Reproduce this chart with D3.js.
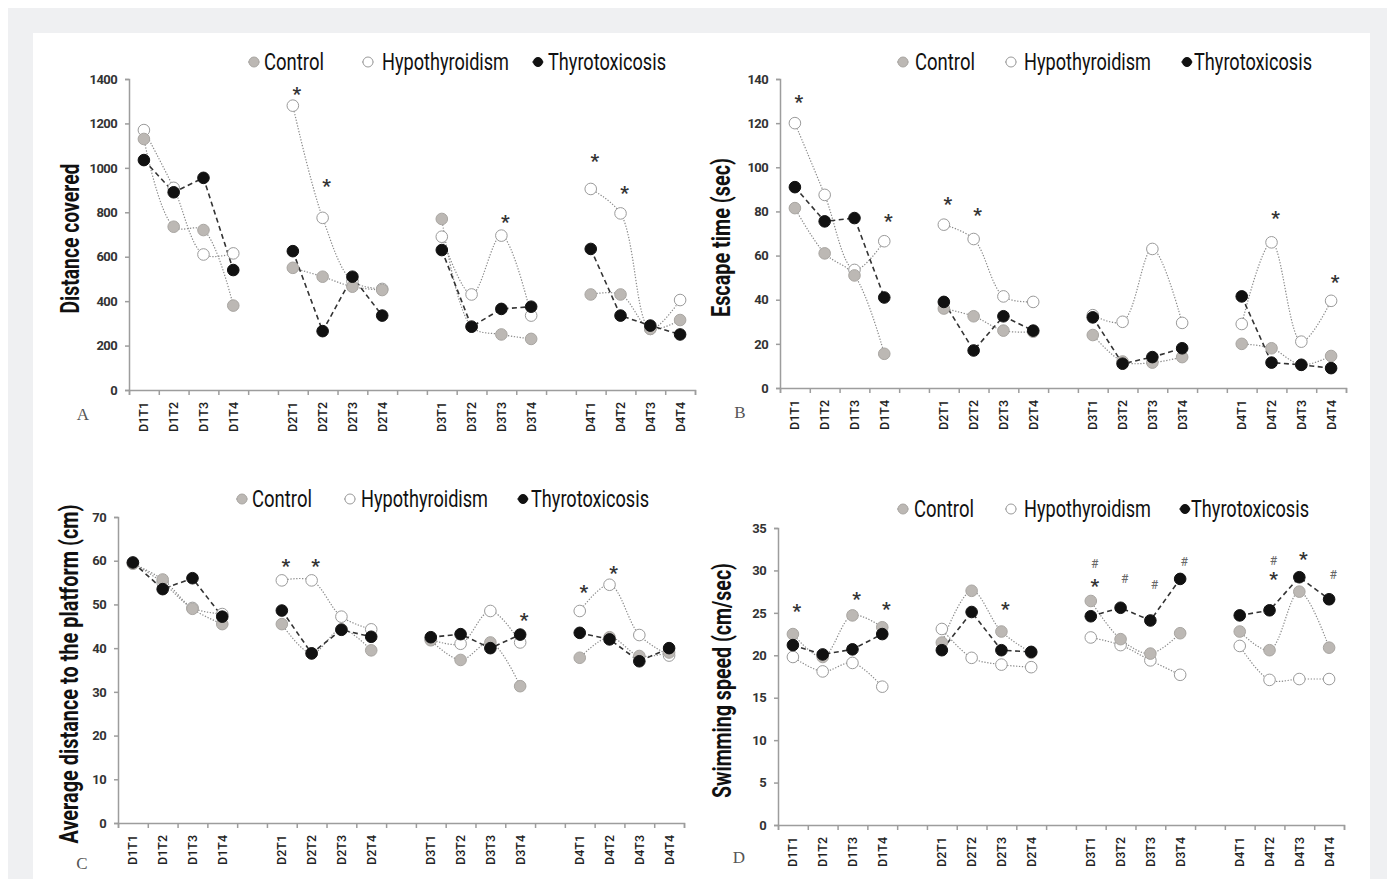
<!DOCTYPE html>
<html lang="en">
<head>
<meta charset="UTF-8">
<title>Water maze results</title>
<script src="https://cdn.jsdelivr.net/npm/d3@7"></script>
<style>
  body { margin: 0; background: #fff; }
  svg text { font-family: Roboto, "Noto Sans", sans-serif; }
</style>
</head>
<body>
<svg id="chart" width="1395" height="879"></svg>
<script>
// categories (day x trial), one empty slot between days on the axis
const categories = ["D1T1", "D1T2", "D1T3", "D1T4", "D2T1", "D2T2", "D2T3", "D2T4",
                    "D3T1", "D3T2", "D3T3", "D3T4", "D4T1", "D4T2", "D4T3", "D4T4"];
const groups = ["Control", "Hypothyroidism", "Thyrotoxicosis"];

// A - distance covered
const distControl = [1130, 735, 720, 380, 550, 510, 465, 450, 770, 285, 250, 230, 430, 430, 275, 315];
const distHypo    = [1170, 910, 610, 615, 1280, 775, 490, 455, 690, 430, 695, 335, 905, 795, 275, 405];
const distThyro   = [1035, 890, 955, 540, 625, 265, 510, 335, 630, 285, 365, 375, 635, 335, 290, 250];
const distMarks   = [["D2T1", 1355, "*"], ["D2T2", 940, "*"], ["D3T3", 780, "*"], ["D4T1", 1055, "*"], ["D4T2", 910, "*"]];

// B - escape time (sec)
const escControl = [81.5, 61, 51, 15.5, 36, 32.5, 26, 25.5, 24, 12, 11.5, 14, 20, 18, 10.5, 14.5];
const escHypo    = [120, 87.5, 53.5, 66.5, 74, 67.5, 41.5, 39, 33, 30, 63, 29.5, 29, 66, 21, 39.5];
const escThyro   = [91, 75.5, 77, 41, 39, 17, 32.5, 26, 32, 11, 14, 18, 41.5, 11.5, 10.5, 9];
const escMarks   = [["D1T1", 132, "*"], ["D1T4", 78, "*"], ["D2T1", 85.5, "*"], ["D2T2", 80.5, "*"], ["D4T2", 79.5, "*"], ["D4T4", 50.5, "*"]];

// C - average distance to the platform (cm)
const platControl = [59.3, 55.7, 49, 45.5, 45.5, 38.8, 44.3, 39.5, 41.8, 37.3, 41.3, 31.3, 37.8, 42.5, 38.2, 39];
const platHypo    = [59.5, 55, 49.2, 47.8, 55.5, 55.5, 47.2, 44.3, 42, 41, 48.5, 41.3, 48.5, 54.5, 43, 38.3];
const platThyro   = [59.6, 53.5, 56, 47.2, 48.6, 38.8, 44.2, 42.6, 42.5, 43.2, 40, 43.1, 43.5, 42, 37, 40];
const platMarks   = [["D2T1", 60, "*"], ["D2T2", 60, "*"], ["D3T4", 47.5, "*"], ["D4T1", 54, "*"], ["D4T2", 58.3, "*"]];

// D - swimming speed (cm/sec)
const speedControl = [22.5, 19.8, 24.7, 23.3, 21.5, 27.6, 22.8, 20.3, 26.4, 21.9, 20.2, 22.6, 22.8, 20.6, 27.5, 20.9];
const speedHypo    = [19.8, 18.1, 19.1, 16.3, 23.1, 19.7, 18.9, 18.6, 22.1, 21.2, 19.4, 17.7, 21.1, 17.1, 17.2, 17.2];
const speedThyro   = [21.2, 20.1, 20.7, 22.5, 20.6, 25.1, 20.6, 20.4, 24.6, 25.6, 24.1, 29, 24.7, 25.3, 29.2, 26.6];
const speedMarks   = [["D1T1", 25.8, "*"], ["D1T3", 27.2, "*"], ["D1T4", 26.1, "*"], ["D2T3", 26.1, "*"],
                      ["D3T1", 30.8, "#"], ["D3T1", 28.8, "*"], ["D3T2", 29, "#"], ["D3T3", 28.4, "#"], ["D3T4", 31, "#"],
                      ["D4T2", 31.2, "#"], ["D4T2", 29.6, "*"], ["D4T3", 31.9, "*"], ["D4T4", 29.5, "#"]];

const panels = [
  { letter: "A", title: "Distance covered", titleLen: 150, yMax: 1400, yStep: 200,
    control: distControl, hypo: distHypo, thyro: distThyro, marks: distMarks,
    x0: 129, x1: 695, yBase: 390, yTop: 79, titleX: 79, letterX: 83, letterY: 420,
    legY: 70, legMark: [254, 368, 538], legText: [264, 382, 548] },
  { letter: "B", title: "Escape time (sec)", titleLen: 159, yMax: 140, yStep: 20,
    control: escControl, hypo: escHypo, thyro: escThyro, marks: escMarks,
    x0: 780, x1: 1346, yBase: 388, yTop: 79, titleX: 730, letterX: 740, letterY: 418,
    legY: 70, legMark: [903, 1011, 1187], legText: [915, 1024, 1194] },
  { letter: "C", title: "Average distance to the platform (cm)", titleLen: 339, yMax: 70, yStep: 10,
    control: platControl, hypo: platHypo, thyro: platThyro, marks: platMarks,
    x0: 118, x1: 684, yBase: 823, yTop: 517, titleX: 78, letterX: 82, letterY: 869,
    legY: 507, legMark: [242, 350, 523], legText: [252, 361, 531] },
  { letter: "D", title: "Swimming speed (cm/sec)", titleLen: 235, yMax: 35, yStep: 5,
    control: speedControl, hypo: speedHypo, thyro: speedThyro, marks: speedMarks,
    x0: 778, x1: 1344, yBase: 825, yTop: 528, titleX: 731, letterX: 739, letterY: 863,
    legY: 517, legMark: [903, 1011, 1185], legText: [914, 1024, 1191] }
];

const legendLen = [60, 127, 118];

const style = {
  Control:        { fill: "#bcb8b4", stroke: "#a9a6a2", line: "#8a8a8a", dash: "1.3,1.6", width: 1.2, curve: d3.curveCatmullRom },
  Hypothyroidism: { fill: "#ffffff", stroke: "#9a9a9a", line: "#8a8a8a", dash: "1.3,1.6", width: 1.2, curve: d3.curveCatmullRom },
  Thyrotoxicosis: { fill: "#111111", stroke: "#111111", line: "#333333", dash: "5,3.5", width: 1.6, curve: d3.curveLinear }
};

const svg = d3.select("#chart");

// page frame
svg.append("rect").attr("x", 8).attr("y", 8).attr("width", 1379).attr("height", 871).attr("fill", "#eff0f2");
svg.append("rect").attr("x", 33).attr("y", 33).attr("width", 1337).attr("height", 846).attr("fill", "#ffffff");

const slotOf = i => i + Math.floor(i / 4);

panels.forEach(p => {
  const g = svg.append("g");
  const x = d3.scaleLinear().domain([0, 19]).range([p.x0, p.x1]);
  const y = d3.scaleLinear().domain([0, p.yMax]).range([p.yBase, p.yTop]);
  const cx = i => x(slotOf(i) + 0.5);

  // y axis
  const ya = g.append("g")
    .attr("transform", `translate(${p.x0},0)`)
    .call(d3.axisLeft(y).tickValues(d3.range(0, p.yMax + 1e-9, p.yStep))
      .tickFormat(d3.format("d")).tickSize(4).tickPadding(8));
  ya.selectAll("path, line").attr("stroke", "#9d9d9d").attr("stroke-width", 1.5);
  ya.selectAll("text").attr("fill", "#333").style("font-size", "13px").style("font-weight", 700)
    .style("letter-spacing", "-0.6px");

  // x axis: ticks at slot boundaries
  const xa = g.append("g")
    .attr("transform", `translate(0,${p.yBase})`)
    .call(d3.axisBottom(x).tickValues(d3.range(0, 20)).tickSize(5).tickFormat(""));
  xa.selectAll("path, line").attr("stroke", "#9d9d9d").attr("stroke-width", 1.5);

  categories.forEach((c, i) => {
    g.append("text")
      .attr("transform", `translate(${cx(i) + 4.5},${p.yBase + 12}) rotate(-90)`)
      .attr("text-anchor", "end")
      .attr("textLength", 30).attr("lengthAdjust", "spacingAndGlyphs")
      .attr("fill", "#222").style("font-size", "12.5px").style("font-weight", 500)
      .text(c);
  });

  // axis title
  g.append("text")
    .attr("transform", `translate(${p.titleX},${(p.yBase + p.yTop) / 2 + 4}) rotate(-90)`)
    .attr("text-anchor", "middle")
    .attr("textLength", p.titleLen).attr("lengthAdjust", "spacingAndGlyphs")
    .attr("fill", "#111").style("font-size", "25px").style("font-weight", 700)
    .text(p.title);

  // panel letter
  g.append("text")
    .attr("x", p.letterX).attr("y", p.letterY)
    .attr("text-anchor", "middle")
    .attr("fill", "#555").style("font-family", "'Liberation Serif', 'DejaVu Serif', serif")
    .style("font-size", "17px")
    .text(p.letter);

  // series
  const series = [
    { name: "Hypothyroidism", values: p.hypo },
    { name: "Control", values: p.control },
    { name: "Thyrotoxicosis", values: p.thyro }
  ];

  series.forEach(s => {
    const st = style[s.name];
    const line = d3.line().x(d => cx(d.i)).y(d => y(d.v)).curve(st.curve);
    for (let day = 0; day < 4; day++) {
      const pts = s.values.slice(day * 4, day * 4 + 4).map((v, k) => ({ i: day * 4 + k, v }));
      g.append("path").attr("d", line(pts))
        .attr("fill", "none").attr("stroke", st.line)
        .attr("stroke-width", st.width).attr("stroke-dasharray", st.dash);
    }
  });

  series.forEach(s => {
    const st = style[s.name];
    g.selectAll(null).data(s.values).enter().append("circle")
      .attr("cx", (d, i) => cx(i)).attr("cy", d => y(d))
      .attr("r", 5.8)
      .attr("fill", st.fill).attr("stroke", st.stroke).attr("stroke-width", 1);
  });

  // significance marks
  p.marks.forEach(([cat, v, sym]) => {
    const i = categories.indexOf(cat);
    const t = g.append("text")
      .attr("x", cx(i) + 4)
      .attr("text-anchor", "middle")
      .text(sym);
    if (sym === "*") {
      t.attr("y", y(v) + 11).attr("fill", "#333").style("font-size", "19px").style("font-weight", 700);
    } else {
      t.attr("y", y(v) + 4.5).attr("fill", "#666").style("font-size", "12px");
    }
  });

  // legend
  groups.forEach((name, k) => {
    const st = style[name];
    const mx = p.legMark[k], my = p.legY - 8;
    g.append("line").attr("x1", mx - 6).attr("x2", mx + 6).attr("y1", my).attr("y2", my)
      .attr("stroke", st.line).attr("stroke-width", 1).attr("stroke-dasharray", "1.5,1");
    g.append("circle").attr("cx", mx).attr("cy", my).attr("r", name === "Thyrotoxicosis" ? 4.5 : 5)
      .attr("fill", st.fill).attr("stroke", st.stroke).attr("stroke-width", 1);
    g.append("text")
      .attr("x", p.legText[k]).attr("y", p.legY)
      .attr("textLength", legendLen[k]).attr("lengthAdjust", "spacingAndGlyphs")
      .attr("fill", "#111").style("font-size", "24px")
      .text(name);
  });
});
</script>
</body>
</html>
